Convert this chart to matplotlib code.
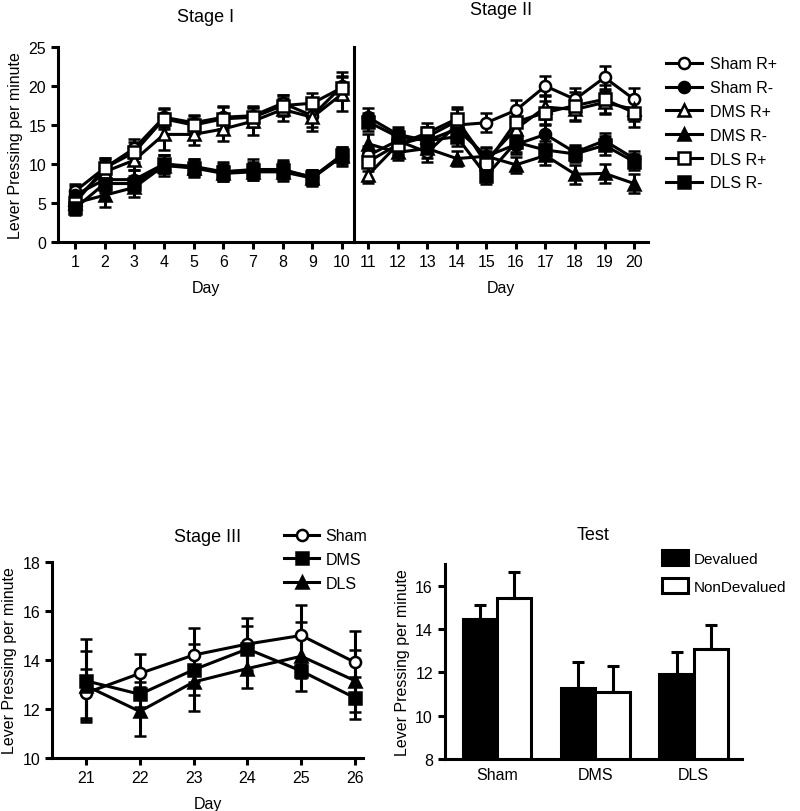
import numpy as np
import matplotlib
matplotlib.use("Agg")
import matplotlib.pyplot as plt
from matplotlib.lines import Line2D
from matplotlib.patches import Patch

plt.rcParams['font.family'] = ['Liberation Sans', 'DejaVu Sans']

# ---- data -------------------------------------------------------------
days1 = [1, 2, 3, 4, 5, 6, 7, 8, 9, 10]
days2 = [11, 12, 13, 14, 15, 16, 17, 18, 19, 20]
days3 = [21, 22, 23, 24, 25, 26]

series_names = ["Sham R+", "Sham R-", "DMS R+", "DMS R-", "DLS R+", "DLS R-"]

sham_rp_1 = [6.5, 9.5, 12.0, 16.0, 15.3, 16.0, 16.2, 17.8, 16.2, 20.0]
sham_rm_1 = [6.0, 8.0, 8.0, 10.0, 9.7, 9.0, 9.3, 9.3, 8.3, 11.0]
dms_rp_1 = [5.5, 9.0, 10.5, 13.8, 13.8, 14.5, 15.5, 17.0, 16.0, 19.0]
dms_rm_1 = [5.0, 6.0, 7.0, 9.8, 9.5, 8.8, 9.0, 9.0, 8.2, 11.0]
dls_rp_1 = [5.0, 9.5, 11.5, 15.8, 15.0, 15.8, 16.0, 17.5, 17.8, 19.8]
dls_rm_1 = [4.3, 7.5, 7.5, 10.0, 9.5, 9.0, 9.2, 9.2, 8.3, 11.2]

sham_rp_1_err = [1.0, 1.3, 1.2, 1.2, 1.0, 1.5, 1.2, 1.0, 1.5, 1.8]
sham_rm_1_err = [1.2, 1.5, 1.2, 1.2, 1.0, 1.2, 1.3, 1.2, 1.0, 1.2]
dms_rp_1_err = [1.0, 1.5, 1.2, 2.0, 1.3, 1.5, 1.8, 1.5, 1.8, 2.2]
dms_rm_1_err = [1.0, 1.5, 1.2, 1.3, 1.2, 1.0, 1.0, 1.2, 1.0, 1.0]
dls_rp_1_err = [1.0, 1.3, 1.3, 1.3, 1.2, 1.5, 1.2, 1.3, 1.3, 1.5]
dls_rm_1_err = [0.8, 1.2, 1.0, 1.2, 1.0, 1.0, 1.0, 1.0, 1.0, 1.0]

sham_rp_2 = [11.1, 13.0, 11.5, 15.0, 15.3, 16.9, 20.0, 18.3, 21.1, 18.3]
sham_rm_2 = [16.0, 13.8, 13.0, 14.5, 11.0, 12.5, 13.8, 11.5, 13.0, 10.7]
dms_rp_2 = [8.6, 12.5, 13.5, 15.5, 10.5, 14.5, 17.3, 17.0, 17.9, 17.0]
dms_rm_2 = [12.6, 11.5, 12.0, 10.7, 11.0, 9.9, 11.1, 8.7, 8.8, 7.5]
dls_rp_2 = [10.3, 12.5, 14.0, 15.8, 10.0, 15.4, 16.6, 17.5, 18.3, 16.6]
dls_rm_2 = [15.4, 13.5, 13.0, 13.5, 8.5, 12.8, 11.8, 11.3, 12.4, 10.3]

sham_rp_2_err = [1.2, 1.0, 1.2, 1.2, 1.2, 1.3, 1.3, 1.5, 1.5, 1.5]
sham_rm_2_err = [1.2, 1.0, 1.2, 1.2, 1.0, 1.2, 1.2, 1.0, 1.0, 1.0]
dms_rp_2_err = [1.0, 1.2, 1.2, 1.5, 1.2, 1.5, 1.5, 1.5, 1.5, 1.5]
dms_rm_2_err = [1.2, 1.0, 1.2, 1.0, 1.2, 1.0, 1.2, 1.2, 1.2, 1.2]
dls_rp_2_err = [1.2, 1.2, 1.3, 1.5, 1.2, 1.5, 1.5, 1.8, 1.8, 1.8]
dls_rm_2_err = [1.2, 1.0, 1.2, 1.2, 1.0, 1.2, 1.2, 1.0, 1.2, 1.0]

groups3 = ["Sham", "DMS", "DLS"]
sham_3 = [12.65, 13.45, 14.2, 14.65, 15.0, 13.9]
dms_3 = [13.15, 12.6, 13.6, 14.45, 13.55, 12.45]
dls_3 = [12.95, 11.9, 13.1, 13.65, 14.15, 13.15]
sham_3_err = [1.0, 0.78, 1.1, 1.05, 1.25, 1.27]
dms_3_err = [1.7, 0.5, 1.05, 0.95, 0.3, 0.85]
dls_3_err = [1.4, 1.0, 1.2, 0.8, 1.4, 1.27]

test_groups = ["Sham", "DMS", "DLS"]
devalued = [14.47, 11.3, 11.95]
devalued_err = [0.66, 1.17, 1.0]
nondevalued = [15.43, 11.11, 13.06]
nondevalued_err = [1.2, 1.18, 1.14]

# ---- style ------------------------------------------------------------
markers = ["o", "o", "^", "^", "s", "s"]
faces = ["white", "black", "white", "black", "white", "black"]
LW = 2.2
FS = 11.5
TFS = 13

stage1 = [sham_rp_1, sham_rm_1, dms_rp_1, dms_rm_1, dls_rp_1, dls_rm_1]
stage1_err = [sham_rp_1_err, sham_rm_1_err, dms_rp_1_err, dms_rm_1_err, dls_rp_1_err, dls_rm_1_err]
stage2 = [sham_rp_2, sham_rm_2, dms_rp_2, dms_rm_2, dls_rp_2, dls_rm_2]
stage2_err = [sham_rp_2_err, sham_rm_2_err, dms_rp_2_err, dms_rm_2_err, dls_rp_2_err, dls_rm_2_err]

line_kw = dict(color="black", lw=LW, ms=8, mec="black", mew=1.8,
               capsize=4.5, capthick=LW, elinewidth=LW)


def style_axis(ax):
    for s in ["top", "right"]:
        ax.spines[s].set_visible(False)
    for s in ["left", "bottom"]:
        ax.spines[s].set_linewidth(LW)
    ax.tick_params(width=LW, length=5, labelsize=FS, direction="out")


fig = plt.figure(figsize=(8, 8.12), dpi=100)

# top: stage I and stage II share one frame, split by a line
ax1 = fig.add_axes([0.0725, 0.7007, 0.37, 0.2401])
ax2 = fig.add_axes([0.4425, 0.7007, 0.3675, 0.2401])

for vals, errs, m, fc in zip(stage1, stage1_err, markers, faces):
    ax1.errorbar(days1, vals, yerr=errs, marker=m, mfc=fc, **line_kw)
for vals, errs, m, fc in zip(stage2, stage2_err, markers, faces):
    ax2.errorbar(days2, vals, yerr=errs, marker=m, mfc=fc, **line_kw)

style_axis(ax1)
style_axis(ax2)
ax1.set_xlim(0.43, 10.4)
ax1.set_ylim(0, 25)
ax1.set_xticks(days1)
ax1.set_yticks([0, 5, 10, 15, 20, 25])
ax1.set_xlabel("Day", fontsize=FS, labelpad=8)
ax1.set_ylabel("Lever Pressing per minute", fontsize=FS)
ax1.set_title("Stage I", fontsize=TFS, pad=19)

ax2.set_xlim(10.52, 20.47)
ax2.set_ylim(0, 25)
ax2.set_xticks(days2)
ax2.set_yticks([])
ax2.set_xlabel("Day", fontsize=FS, labelpad=8)
ax2.set_title("Stage II", fontsize=TFS, pad=24)

handles = [Line2D([], [], color="black", lw=LW, marker=m, ms=8, mfc=fc, mec="black", mew=1.8)
           for m, fc in zip(markers, faces)]
ax2.legend(handles, series_names, loc="upper left", bbox_to_anchor=(0.815, 0.947),
           bbox_transform=fig.transFigure, frameon=False, fontsize=FS,
           handlelength=2.2, handletextpad=0.5, labelspacing=0.55)

# bottom-left: stage III
ax3 = fig.add_axes([0.065, 0.0653, 0.389, 0.2414])
for vals, errs, m in zip([sham_3, dms_3, dls_3], [sham_3_err, dms_3_err, dls_3_err], ["o", "s", "^"]):
    ax3.errorbar(days3, vals, yerr=errs, marker=m,
                 mfc="white" if m == "o" else "black", **line_kw)
style_axis(ax3)
ax3.set_xlim(20.37, 26.15)
ax3.set_ylim(10, 18)
ax3.set_xticks(days3)
ax3.set_yticks([10, 12, 14, 16, 18])
ax3.set_xlabel("Day", fontsize=FS, labelpad=8)
ax3.set_ylabel("Lever Pressing per minute", fontsize=FS)
ax3.set_title("Stage III", fontsize=TFS, pad=15)
h3 = [Line2D([], [], color="black", lw=LW, marker=m, ms=8,
             mfc="white" if m == "o" else "black", mec="black", mew=1.8)
      for m in ["o", "s", "^"]]
ax3.legend(h3, groups3, loc="upper left", bbox_to_anchor=(0.337, 0.366),
           bbox_transform=fig.transFigure, frameon=False, fontsize=FS,
           handlelength=2.2, handletextpad=0.4, labelspacing=0.55)

# bottom-right: test
ax4 = fig.add_axes([0.556, 0.064, 0.3715, 0.24])
x = np.arange(len(test_groups))
w = 0.35
ax4.bar(x - w / 2, devalued, w, color="black", edgecolor="black", lw=LW,
        yerr=[np.zeros(3), devalued_err], capsize=4.5,
        error_kw=dict(elinewidth=LW, capthick=LW, ecolor="black"))
ax4.bar(x + w / 2, nondevalued, w, color="white", edgecolor="black", lw=LW,
        yerr=[np.zeros(3), nondevalued_err], capsize=4.5,
        error_kw=dict(elinewidth=LW, capthick=LW, ecolor="black"))
style_axis(ax4)
ax4.set_xlim(-0.53, 2.49)
ax4.set_ylim(8, 17)
ax4.set_yticks([8, 10, 12, 14, 16])
ax4.set_xticks(x)
ax4.set_xticklabels(test_groups)
ax4.tick_params(axis="x", length=0, pad=6)
ax4.set_ylabel("Lever Pressing per minute", fontsize=FS)
ax4.set_title("Test", fontsize=TFS, pad=18)
bar_handles = [Patch(facecolor="black", edgecolor="black", lw=LW),
               Patch(facecolor="white", edgecolor="black", lw=LW)]
ax4.legend(bar_handles, ["Devalued", "NonDevalued"], loc="upper left",
           bbox_to_anchor=(0.81, 0.338), bbox_transform=fig.transFigure,
           frameon=False, fontsize=11, handlelength=1.7, handleheight=1.1,
           handletextpad=0.4, labelspacing=0.8)

fig.savefig("out.png", dpi=100)
